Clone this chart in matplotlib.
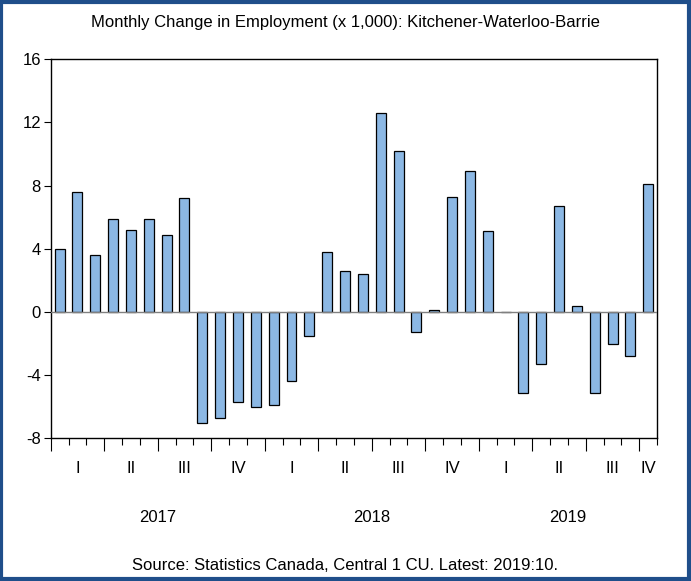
import matplotlib.pyplot as plt
from matplotlib.patches import Rectangle
from matplotlib.ticker import FixedLocator, NullFormatter

plt.rcParams['font.family'] = ['Liberation Sans', 'DejaVu Sans']

# monthly change in employment, thousands, Jan 2017 .. Oct 2019
values_2017 = [4.0, 7.6, 3.6, 5.9, 5.2, 5.9, 4.9, 7.2, -7.0, -6.7, -5.7, -6.0]
values_2018 = [-5.9, -4.4, -1.5, 3.8, 2.6, 2.4, 12.6, 10.2, -1.3, 0.1, 7.3, 8.9]
values_2019 = [5.1, 0.0, -5.1, -3.3, 6.7, 0.4, -5.1, -2.0, -2.8, 8.1]
quarter_labels = ['I', 'II', 'III', 'IV']
years = ['2017', '2018', '2019']
y_ticks = [16, 12, 8, 4, 0, -4, -8]

values = values_2017 + values_2018 + values_2019
n = len(values)

fig = plt.figure(figsize=(6.91, 5.81), dpi=100)
ax = fig.add_axes([0.0734, 0.2456, 0.8776, 0.6524])

x = [i + 0.5 for i in range(n)]
ax.bar(x, values, width=0.56, color='#8cb8e4', edgecolor='black', linewidth=0.9, zorder=3)
ax.axhline(0, color='#808080', linewidth=1.0, zorder=4)

ax.set_xlim(0, n)
ax.set_ylim(-8, 16)
ax.set_yticks(y_ticks)
ax.set_yticklabels([str(t) for t in y_ticks])
ax.tick_params(axis='y', direction='out', length=5, width=0.8, labelsize=12, pad=2)

ax.xaxis.set_major_locator(FixedLocator(list(range(0, n + 1, 3))))
ax.xaxis.set_minor_locator(FixedLocator(list(range(0, n + 1))))
ax.xaxis.set_major_formatter(NullFormatter())
ax.tick_params(axis='x', which='major', direction='out', length=9, width=0.8)
ax.tick_params(axis='x', which='minor', direction='out', length=5, width=0.8)

for s in ax.spines.values():
    s.set_linewidth(1.0)

# quarter labels, centred on each (partial) quarter
for start in range(0, n, 3):
    end = min(start + 3, n)
    q = (start // 3) % 4
    ax.text((start + end) / 2, -0.08, quarter_labels[q], transform=ax.get_xaxis_transform(),
            ha='center', va='center', fontsize=12)

# year labels
for k, yr in enumerate(years):
    start = k * 12
    end = min(start + 12, n)
    ax.text((start + end) / 2, -0.21, yr, transform=ax.get_xaxis_transform(),
            ha='center', va='center', fontsize=12)

fig.text(0.5, 0.962, 'Monthly Change in Employment (x 1,000): Kitchener-Waterloo-Barrie',
         ha='center', va='center', fontsize=12)
fig.text(0.5, 0.026, 'Source: Statistics Canada, Central 1 CU. Latest: 2019:10.',
         ha='center', va='center', fontsize=12)

fig.patches.append(Rectangle((0.002, 0.003), 0.995, 0.994, transform=fig.transFigure,
                             fill=False, edgecolor='#1f4e8a', linewidth=3))

fig.savefig('out.png', dpi=100)
